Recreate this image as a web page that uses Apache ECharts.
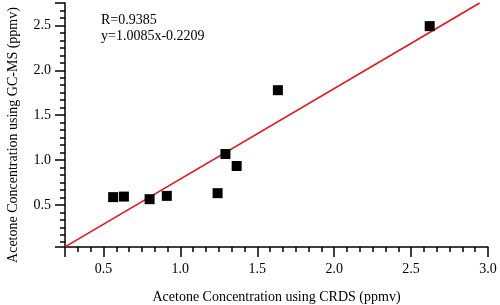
<!DOCTYPE html>
<html>
<head>
<meta charset="utf-8">
<title>Acetone CRDS vs GC-MS</title>
<script src="https://cdn.jsdelivr.net/npm/echarts@6/dist/echarts.min.js"></script>
<style>
  html, body { margin: 0; padding: 0; background: #fff; }
  #chart { width: 500px; height: 305px; }
</style>
</head>
<body>
<div id="chart"></div>
<script>
// measured concentrations (ppmv)
var crds  = [0.563, 0.633, 0.80, 0.912, 1.242, 1.293, 1.366, 1.634, 2.621];
var gcms  = [0.586, 0.592, 0.563, 0.60, 0.63, 1.067, 0.933, 1.778, 2.492];
// fit line endpoints, y = 1.0085x - 0.2209
var fitX = [0.25, 2.946];
var fitY = [0.031, 2.75];
var statText = ['R=0.9385', 'y=1.0085x-0.2209'];
var xTitle = 'Acetone Concentration using CRDS (ppmv)';
var yTitle = 'Acetone Concentration using GC-MS (ppmv)';

var font = 'Liberation Serif';
var points = crds.map(function (x, i) { return [x, gcms[i]]; });
var fit = fitX.map(function (x, i) { return [x, fitY[i]]; });

function axisCommon() {
  return {
    type: 'value',
    splitNumber: 5,
    axisLine: { show: true, onZero: false, lineStyle: { color: '#000', width: 1.5 } },
    axisTick: { show: true, inside: false, length: 10, lineStyle: { color: '#000', width: 1.5 } },
    minorTick: { show: true, splitNumber: 6, length: 5, lineStyle: { color: '#000', width: 1.5 } },
    splitLine: { show: false },
    axisLabel: {
      fontFamily: font, fontSize: 14, color: '#000',
      showMinLabel: false, showMaxLabel: false,
      formatter: function (v) { return v.toFixed(1); }
    }
  };
}

var chart = echarts.init(document.getElementById('chart'));
var xa = axisCommon();
xa.min = 0.25; xa.max = 3.0;
xa.name = xTitle;
xa.nameLocation = 'middle';
xa.nameGap = 43;
xa.nameTextStyle = { fontFamily: font, fontSize: 14, color: '#000' };
xa.axisLabel.showMaxLabel = true;
xa.axisLabel.margin = 15;
var ya = axisCommon();
ya.min = 0.03; ya.max = 2.75;
ya.axisLabel.margin = 14;

chart.setOption({
  animation: false,
  grid: { left: 65, right: 12, top: 3, bottom: 58, containLabel: false, outerBoundsMode: 'none' },
  xAxis: xa,
  yAxis: ya,
  graphic: [{
    type: 'text', left: 101, top: 12,
    style: { text: statText.join('\n'), fontFamily: font, fontSize: 14, lineHeight: 16, fill: '#000' }
  }, {
    type: 'text', x: 13, y: 135, rotation: Math.PI / 2,
    style: { text: yTitle, fontFamily: font, fontSize: 14, fill: '#000',
             align: 'center', verticalAlign: 'middle' }
  }],
  series: [{
    type: 'line',
    data: fit,
    symbol: 'none',
    lineStyle: { color: '#e8141c', width: 1.6 },
    z: 2
  }, {
    type: 'scatter',
    data: points,
    symbol: 'rect',
    symbolSize: 10,
    itemStyle: { color: '#000', opacity: 1 },
    z: 3
  }]
});
</script>
</body>
</html>
